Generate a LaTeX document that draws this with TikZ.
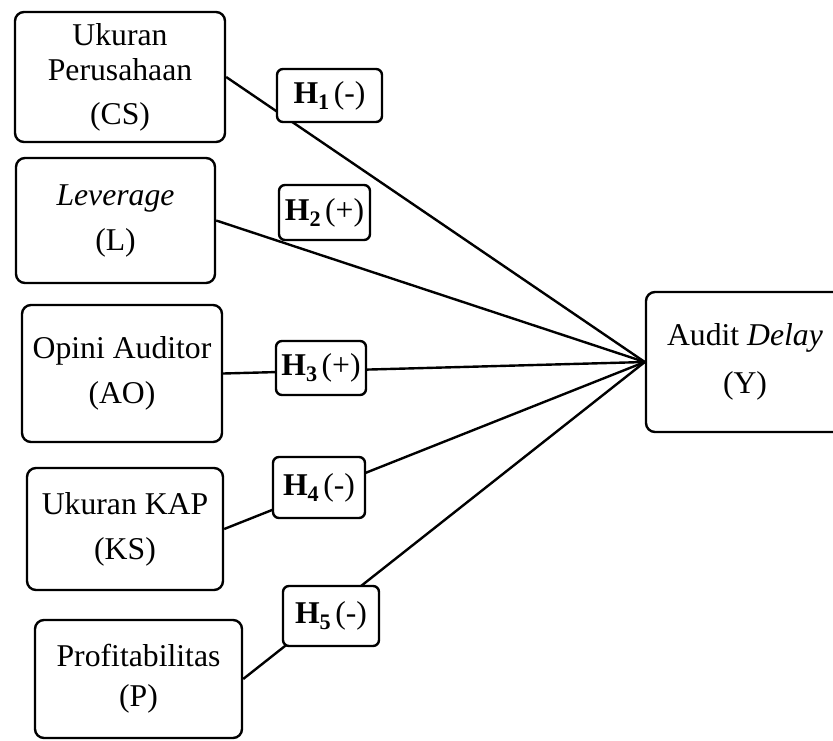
\documentclass[tikz,border=0pt]{standalone}
\usepackage{fontspec}
\setmainfont{Liberation Serif}
\newcommand{\hlab}[2]{\textbf{H\textsubscript{\textbf{#1}}}\kern4pt(#2)}

\begin{document}
\begin{tikzpicture}[x=1pt,y=1pt,yscale=-1,xscale=1,
  var/.style={draw,rounded corners=9pt,line width=2.4pt,align=center,inner sep=0pt,font=\fontsize{31.7}{45}\selectfont},
  hyp/.style={draw,fill=white,rounded corners=6pt,line width=2.4pt,inner sep=0pt,font=\fontsize{31.7}{38}\selectfont},
  link/.style={line width=2.4pt}]
\useasboundingbox (0,0) rectangle (833,740);

%Shape: Rectangle [CS]
\node [var,minimum width=210pt,minimum height=130pt] (cs) at (120,77) {Ukuran\\[-10pt]Perusahaan\\[-1pt](CS)};
%Shape: Rectangle [L]
\node [var,minimum width=199pt,minimum height=125pt] (lv) at (115.5,220.5) {\textit{Leverage}\\(L)};
%Shape: Rectangle [AO]
\node [var,minimum width=200pt,minimum height=137pt] (ao) at (122,373.5) {Opini Auditor\\(AO)};
%Shape: Rectangle [KS]
\node [var,minimum width=196pt,minimum height=122pt] (ks) at (125,529) {Ukuran KAP\\(KS)};
%Shape: Rectangle [P]
\node [var,minimum width=207pt,minimum height=118pt] (pr) at (138.5,679) {Profitabilitas\\[-5pt](P)};
%Shape: Rectangle [Y]
\node [var,minimum width=198pt,minimum height=140pt] (ad) at (745,362) {Audit \textit{Delay}\\[3pt](Y)};

%Straight Lines
\draw [link] (cs.east) -- (ad.west);
\draw [link] (lv.east) -- (ad.west);
\draw [link] (ao.east) -- (ad.west);
\draw [link] (ks.east) -- (ad.west);
\draw [link] (pr.east) -- (ad.west);

% Text Node
\node [hyp,minimum width=105pt,minimum height=53pt] (h1) at (329.5,95.5) {\hlab{1}{-}};
% Text Node
\node [hyp,minimum width=91pt,minimum height=55pt] (h2) at (324.5,212.5) {\hlab{2}{+}};
% Text Node
\node [hyp,minimum width=90pt,minimum height=54pt] (h3) at (321,368) {\hlab{3}{+}};
% Text Node
\node [hyp,minimum width=92pt,minimum height=61pt] (h4) at (319,487.5) {\hlab{4}{-}};
% Text Node
\node [hyp,minimum width=96pt,minimum height=60pt] (h5) at (331,616) {\hlab{5}{-}};

\end{tikzpicture}
\end{document}
